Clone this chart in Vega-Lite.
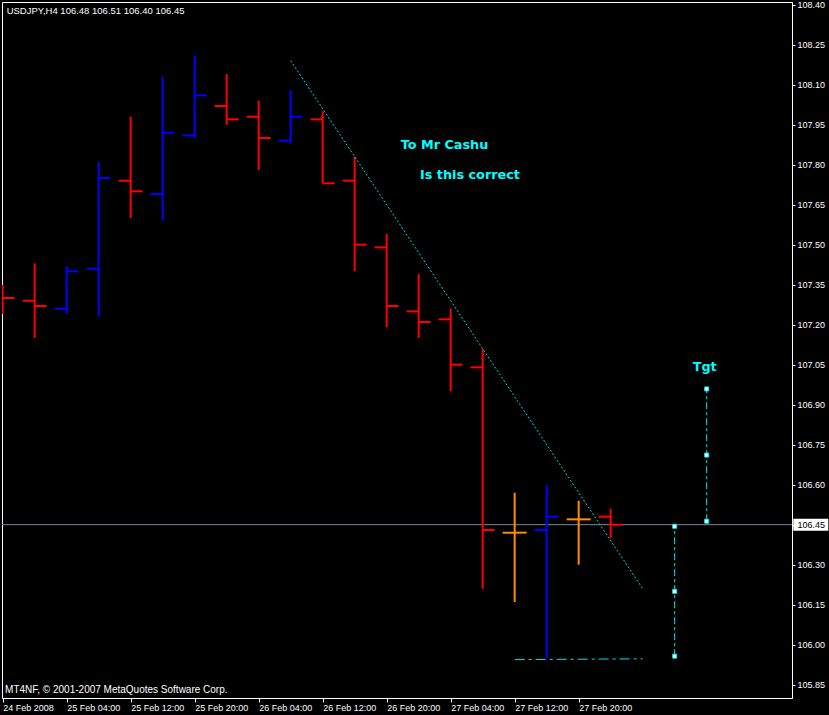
{
  "$schema": "https://vega.github.io/schema/vega-lite/v6.json",
  "width": 790,
  "height": 696,
  "autosize": {"type": "none"},
  "padding": {"left": 2, "top": 2, "right": 37, "bottom": 17},
  "background": "#000000",
  "view": {"stroke": "#FFFFFF", "strokeWidth": 1, "fill": "#000000"},
  "config": {
    "font": "Liberation Sans",
    "axis": {"grid": false, "title": null, "domainColor": "#FFFFFF", "tickColor": "#FFFFFF", "labelColor": "#FFFFFF", "labelFont": "Liberation Sans", "labelFontSize": 9, "zindex": 1}
  },
  "datasets": {
    "bars": [
      {"t": "2008-02-24T20:00:00Z", "o": 107.32, "h": 107.35, "l": 107.24, "c": 107.30},
      {"t": "2008-02-25T00:00:00Z", "o": 107.29, "h": 107.43, "l": 107.15, "c": 107.27},
      {"t": "2008-02-25T04:00:00Z", "o": 107.26, "h": 107.42, "l": 107.24, "c": 107.40},
      {"t": "2008-02-25T08:00:00Z", "o": 107.41, "h": 107.81, "l": 107.23, "c": 107.75},
      {"t": "2008-02-25T12:00:00Z", "o": 107.74, "h": 107.98, "l": 107.60, "c": 107.70},
      {"t": "2008-02-25T16:00:00Z", "o": 107.69, "h": 108.13, "l": 107.59, "c": 107.92},
      {"t": "2008-02-25T20:00:00Z", "o": 107.91, "h": 108.21, "l": 107.90, "c": 108.06},
      {"t": "2008-02-26T00:00:00Z", "o": 108.02, "h": 108.14, "l": 107.95, "c": 107.97},
      {"t": "2008-02-26T04:00:00Z", "o": 107.98, "h": 108.04, "l": 107.78, "c": 107.90},
      {"t": "2008-02-26T08:00:00Z", "o": 107.89, "h": 108.08, "l": 107.88, "c": 107.98},
      {"t": "2008-02-26T12:00:00Z", "o": 107.97, "h": 108.00, "l": 107.73, "c": 107.73},
      {"t": "2008-02-26T16:00:00Z", "o": 107.74, "h": 107.83, "l": 107.40, "c": 107.50},
      {"t": "2008-02-26T20:00:00Z", "o": 107.49, "h": 107.54, "l": 107.19, "c": 107.27},
      {"t": "2008-02-27T00:00:00Z", "o": 107.25, "h": 107.39, "l": 107.15, "c": 107.21},
      {"t": "2008-02-27T04:00:00Z", "o": 107.22, "h": 107.26, "l": 106.95, "c": 107.05},
      {"t": "2008-02-27T08:00:00Z", "o": 107.04, "h": 107.11, "l": 106.21, "c": 106.43},
      {"t": "2008-02-27T12:00:00Z", "o": 106.42, "h": 106.57, "l": 106.16, "c": 106.42},
      {"t": "2008-02-27T16:00:00Z", "o": 106.43, "h": 106.60, "l": 105.95, "c": 106.48},
      {"t": "2008-02-27T20:00:00Z", "o": 106.47, "h": 106.54, "l": 106.30, "c": 106.47},
      {"t": "2008-02-28T00:00:00Z", "o": 106.48, "h": 106.51, "l": 106.40, "c": 106.45}
    ],
    "price": [{"p": 106.45}],
    "trend": [
      {"t": "2008-02-26T08:00:00Z", "p": 108.19},
      {"t": "2008-02-28T04:00:00Z", "p": 106.21}
    ],
    "lows": [
      {"t": "2008-02-27T12:00:00Z", "p": 105.944},
      {"t": "2008-02-28T04:00:00Z", "p": 105.947}
    ],
    "fib": [
      {"g": "a", "t": "2008-02-28T08:00:00Z", "p": 105.957},
      {"g": "a", "t": "2008-02-28T08:00:00Z", "p": 106.20},
      {"g": "a", "t": "2008-02-28T08:00:00Z", "p": 106.444},
      {"g": "b", "t": "2008-02-28T12:00:00Z", "p": 106.463},
      {"g": "b", "t": "2008-02-28T12:00:00Z", "p": 106.711},
      {"g": "b", "t": "2008-02-28T12:00:00Z", "p": 106.959}
    ],
    "notes": [
      {"t": "2008-02-26T21:45:00Z", "p": 107.873, "s": "To Mr Cashu"},
      {"t": "2008-02-27T00:10:00Z", "p": 107.761, "s": "Is this correct"}
    ],
    "target": [
      {"t": "2008-02-28T11:45:00Z", "p": 107.042, "s": "Tgt"}
    ],
    "header": [
      {"t": "2008-02-24T20:30:00Z", "p": 108.378, "s": "USDJPY,H4  106.48 106.51 106.40 106.45"}
    ],
    "footer": [
      {"t": "2008-02-24T20:18:00Z", "p": 105.83, "s": "MT4NF, © 2001-2007 MetaQuotes Software Corp."}
    ]
  },
  "layer": [
    {
      "data": {"name": "price"},
      "mark": {"type": "rule", "color": "#778899", "strokeWidth": 1},
      "encoding": {
        "y": {"field": "p", "type": "quantitative", "title": null, "scale": {"domain": [105.80, 108.41], "zero": false, "nice": false}}
      }
    },
    {
      "data": {"name": "price"},
      "mark": {"type": "point", "shape": "M-1,-0.343H1V0.343H-1Z", "size": 1225, "filled": true, "fill": "#FFFFFF", "opacity": 1, "strokeWidth": 0, "xOffset": 18.8, "clip": false},
      "encoding": {
        "x": {"value": "width"},
        "y": {"field": "p", "type": "quantitative", "title": null, "scale": {"domain": [105.80, 108.41], "zero": false, "nice": false}}
      }
    },
    {
      "data": {"name": "bars"},
      "mark": {"type": "rule", "strokeWidth": 2, "clip": true},
      "encoding": {
        "x": {
          "field": "t", "type": "temporal", "title": null,
          "scale": {"type": "utc", "domain": [
            {"year": 2008, "month": 2, "date": 24, "hours": 19, "minutes": 55, "utc": true},
            {"year": 2008, "month": 2, "date": 28, "hours": 22, "minutes": 40, "utc": true}
          ]},
          "axis": {
            "title": null,
            "values": [
              {"year": 2008, "month": 2, "date": 24, "hours": 20, "utc": true},
              {"year": 2008, "month": 2, "date": 25, "hours": 4, "utc": true},
              {"year": 2008, "month": 2, "date": 25, "hours": 12, "utc": true},
              {"year": 2008, "month": 2, "date": 25, "hours": 20, "utc": true},
              {"year": 2008, "month": 2, "date": 26, "hours": 4, "utc": true},
              {"year": 2008, "month": 2, "date": 26, "hours": 12, "utc": true},
              {"year": 2008, "month": 2, "date": 26, "hours": 20, "utc": true},
              {"year": 2008, "month": 2, "date": 27, "hours": 4, "utc": true},
              {"year": 2008, "month": 2, "date": 27, "hours": 12, "utc": true},
              {"year": 2008, "month": 2, "date": 27, "hours": 20, "utc": true}
            ],
            "labelExpr": "utcFormat(datum.value, '%d %H') == '24 20' ? '24 Feb 2008' : utcFormat(datum.value, '%d %b %H:%M')",
            "labelAlign": "left",
            "labelBaseline": "top",
            "labelFlush": false,
            "labelOverlap": false,
            "labelPadding": 1,
            "labelColor": "#FFFFFF",
            "labelFont": "Liberation Sans",
            "labelFontSize": 9,
            "tickColor": "#FFFFFF",
            "tickSize": 4,
            "domainColor": "#FFFFFF",
            "grid": false,
            "zindex": 1
          }
        },
        "y": {
          "field": "l", "type": "quantitative", "title": null,
          "scale": {"domain": [105.80, 108.41], "zero": false, "nice": false},
          "axis": {
            "orient": "right",
            "title": null,
            "values": [105.85, 106.0, 106.15, 106.3, 106.45, 106.6, 106.75, 106.9, 107.05, 107.2, 107.35, 107.5, 107.65, 107.8, 107.95, 108.1, 108.25, 108.4],
            "format": ".2f",
            "labelColor": {"condition": {"test": "datum.value == 106.45", "value": "#000000"}, "value": "#FFFFFF"},
            "labelFont": "Liberation Sans",
            "labelFontSize": 9,
            "labelPadding": 2,
            "labelOverlap": false,
            "labelFlush": false,
            "tickColor": "#FFFFFF",
            "tickSize": 3,
            "domainColor": "#FFFFFF",
            "grid": false,
            "zindex": 1
          }
        },
        "y2": {"field": "h"},
        "color": {
          "condition": [
            {"test": "datum.c > datum.o", "value": "#0000FF"},
            {"test": "datum.c < datum.o", "value": "#FF0000"}
          ],
          "value": "#FF8C00"
        }
      }
    },
    {
      "data": {"name": "bars"},
      "mark": {"type": "tick", "orient": "horizontal", "size": 12, "thickness": 2, "xOffset": -6, "opacity": 1, "clip": true},
      "encoding": {
        "x": {"field": "t", "type": "temporal", "title": null},
        "y": {"field": "o", "type": "quantitative", "title": null},
        "color": {
          "condition": [
            {"test": "datum.c > datum.o", "value": "#0000FF"},
            {"test": "datum.c < datum.o", "value": "#FF0000"}
          ],
          "value": "#FF8C00"
        }
      }
    },
    {
      "data": {"name": "bars"},
      "mark": {"type": "tick", "orient": "horizontal", "size": 12, "thickness": 2, "xOffset": 6, "opacity": 1, "clip": true},
      "encoding": {
        "x": {"field": "t", "type": "temporal", "title": null},
        "y": {"field": "c", "type": "quantitative", "title": null},
        "color": {
          "condition": [
            {"test": "datum.c > datum.o", "value": "#0000FF"},
            {"test": "datum.c < datum.o", "value": "#FF0000"}
          ],
          "value": "#FF8C00"
        }
      }
    },
    {
      "data": {"name": "trend"},
      "mark": {"type": "line", "color": "#00D8D8", "strokeWidth": 1, "strokeDash": [2, 2]},
      "encoding": {
        "x": {"field": "t", "type": "temporal", "title": null},
        "y": {"field": "p", "type": "quantitative", "title": null}
      }
    },
    {
      "data": {"name": "lows"},
      "mark": {"type": "line", "color": "#00E5E5", "strokeWidth": 1, "strokeDash": [10, 4, 3, 4]},
      "encoding": {
        "x": {"field": "t", "type": "temporal", "title": null},
        "y": {"field": "p", "type": "quantitative", "title": null}
      }
    },
    {
      "data": {"name": "fib"},
      "mark": {"type": "line", "color": "#00E5E5", "strokeWidth": 1, "strokeDash": [7, 3, 3, 3]},
      "encoding": {
        "x": {"field": "t", "type": "temporal", "title": null},
        "y": {"field": "p", "type": "quantitative", "title": null},
        "detail": {"field": "g"},
        "order": {"field": "p"}
      }
    },
    {
      "data": {"name": "fib"},
      "mark": {"type": "point", "shape": "square", "size": 16, "filled": true, "fill": "#FFFFFF", "stroke": "#00E5E5", "strokeWidth": 1, "opacity": 1},
      "encoding": {
        "x": {"field": "t", "type": "temporal", "title": null},
        "y": {"field": "p", "type": "quantitative", "title": null}
      }
    },
    {
      "data": {"name": "notes"},
      "mark": {"type": "text", "color": "#00FFFF", "font": "DejaVu Sans", "fontWeight": "bold", "fontSize": 12.8, "align": "left", "baseline": "middle"},
      "encoding": {
        "x": {"field": "t", "type": "temporal", "title": null},
        "y": {"field": "p", "type": "quantitative", "title": null},
        "text": {"field": "s"}
      }
    },
    {
      "data": {"name": "target"},
      "mark": {"type": "text", "color": "#00FFFF", "font": "DejaVu Sans", "fontWeight": "bold", "fontSize": 12.8, "align": "center", "baseline": "middle"},
      "encoding": {
        "x": {"field": "t", "type": "temporal", "title": null},
        "y": {"field": "p", "type": "quantitative", "title": null},
        "text": {"field": "s"}
      }
    },
    {
      "data": {"name": "header"},
      "mark": {"type": "text", "color": "#FFFFFF", "font": "Liberation Sans", "fontSize": 9.5, "align": "left", "baseline": "middle"},
      "encoding": {
        "x": {"field": "t", "type": "temporal", "title": null},
        "y": {"field": "p", "type": "quantitative", "title": null},
        "text": {"field": "s"}
      }
    },
    {
      "data": {"name": "footer"},
      "mark": {"type": "text", "color": "#FFFFFF", "font": "Liberation Sans", "fontSize": 10, "align": "left", "baseline": "middle"},
      "encoding": {
        "x": {"field": "t", "type": "temporal", "title": null},
        "y": {"field": "p", "type": "quantitative", "title": null},
        "text": {"field": "s"}
      }
    }
  ]
}
